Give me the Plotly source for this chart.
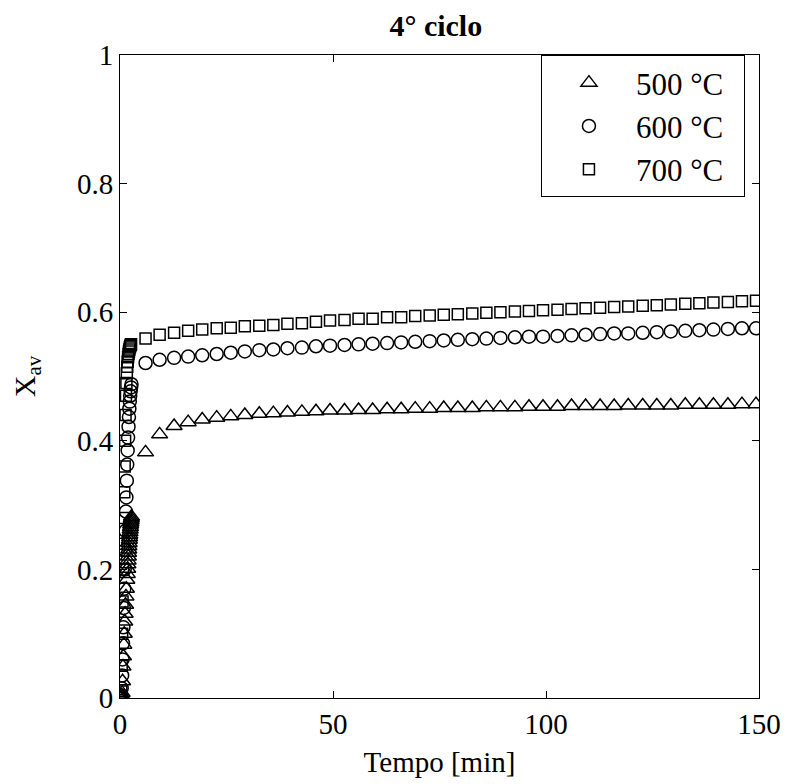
import plotly.graph_objects as go

# ---- data ----
t_early_500 = [0.0, 0.1, 0.2, 0.3, 0.4, 0.5, 0.6, 0.7, 0.8, 0.9, 1.0, 1.1, 1.2, 1.3, 1.4, 1.5,
               1.6, 1.7, 1.8, 1.85, 1.9, 1.95, 2.0, 2.05, 2.1, 2.15, 2.2, 2.25, 2.3, 2.35, 2.4,
               2.45, 2.5, 2.55, 2.6, 2.65, 2.7]
x_early_500 = [0.000, 0.000, 0.001, 0.002, 0.004, 0.008, 0.026, 0.049, 0.065, 0.083, 0.100, 0.119,
               0.131, 0.145, 0.158, 0.170, 0.184, 0.193, 0.201, 0.208, 0.214, 0.220, 0.226, 0.231,
               0.236, 0.241, 0.246, 0.250, 0.254, 0.258, 0.262, 0.266, 0.270, 0.273, 0.276, 0.279,
               0.282]

t_early_600 = [0.0, 0.1, 0.2, 0.3, 0.4, 0.5, 0.6, 0.7, 0.8, 0.9, 1.0, 1.1, 1.2, 1.3, 1.4, 1.5,
               1.6, 1.7, 1.8, 1.9, 2.0, 2.1, 2.2, 2.3, 2.4, 2.5, 2.6, 2.7]
x_early_600 = [0.000, 0.000, 0.001, 0.004, 0.015, 0.035, 0.060, 0.085, 0.110, 0.140, 0.170, 0.200,
               0.230, 0.260, 0.290, 0.312, 0.338, 0.363, 0.385, 0.405, 0.422, 0.437, 0.450, 0.461,
               0.470, 0.477, 0.483, 0.488]

t_early_700 = [0.0, 0.1, 0.2, 0.3, 0.4, 0.5, 0.6, 0.7, 0.8, 0.9, 1.0, 1.1, 1.2, 1.3, 1.4, 1.5,
               1.6, 1.7, 1.8, 1.9, 2.0, 2.1, 2.2, 2.3, 2.4, 2.5, 2.6]
x_early_700 = [0.000, 0.000, 0.002, 0.010, 0.050, 0.100, 0.150, 0.200, 0.240, 0.280, 0.320, 0.360,
               0.400, 0.440, 0.470, 0.490, 0.505, 0.515, 0.523, 0.530, 0.535, 0.539, 0.542, 0.545,
               0.547, 0.549, 0.550]

t_late = [6.0, 9.3, 12.7, 16.0, 19.3, 22.7, 26.0, 29.3, 32.7, 36.0, 39.3, 42.7, 46.0, 49.3,
          52.7, 56.0, 59.3, 62.7, 66.0, 69.3, 72.7, 76.0, 79.3, 82.7, 86.0, 89.3, 92.7, 96.0,
          99.3, 102.7, 106.0, 109.3, 112.7, 116.0, 119.3, 122.7, 126.0, 129.3, 132.7, 136.0,
          139.3, 142.7, 146.0, 149.3]
x_late_500 = [0.382, 0.410, 0.423, 0.429, 0.433, 0.436, 0.438, 0.440, 0.442, 0.443, 0.444, 0.445,
              0.446, 0.447, 0.447, 0.448, 0.448, 0.449, 0.449, 0.450, 0.450, 0.451, 0.451, 0.451,
              0.452, 0.452, 0.452, 0.453, 0.453, 0.453, 0.454, 0.454, 0.454, 0.454, 0.455, 0.455,
              0.455, 0.455, 0.456, 0.456, 0.456, 0.456, 0.457, 0.457]
x_late_600 = [0.521, 0.526, 0.529, 0.531, 0.533, 0.535, 0.537, 0.539, 0.541, 0.542, 0.544, 0.545,
              0.547, 0.548, 0.549, 0.550, 0.551, 0.552, 0.553, 0.554, 0.555, 0.556, 0.557, 0.558,
              0.559, 0.560, 0.561, 0.562, 0.562, 0.563, 0.564, 0.565, 0.566, 0.567, 0.567, 0.568,
              0.569, 0.570, 0.571, 0.572, 0.573, 0.574, 0.575, 0.575]
x_late_700 = [0.559, 0.565, 0.568, 0.571, 0.573, 0.575, 0.576, 0.578, 0.579, 0.580, 0.582, 0.583,
              0.585, 0.587, 0.588, 0.590, 0.590, 0.592, 0.592, 0.594, 0.595, 0.596, 0.597, 0.598,
              0.599, 0.600, 0.601, 0.602, 0.603, 0.604, 0.605, 0.606, 0.607, 0.608, 0.609, 0.610,
              0.611, 0.612, 0.613, 0.614, 0.615, 0.616, 0.617, 0.618]

series_names = ["500 °C", "600 °C", "700 °C"]
x_ticks = [0, 50, 100, 150]
y_ticks = [0, 0.2, 0.4, 0.6, 0.8, 1]
y_tick_text = ["0", "0.2", "0.4", "0.6", "0.8", "1"]

FONT = "Liberation Serif, Times New Roman, serif"

fig = go.Figure()
specs = [
    (t_early_500 + t_late, x_early_500 + x_late_500, "triangle-up-open", 14),
    (t_early_600 + t_late, x_early_600 + x_late_600, "circle-open", 13),
    (t_early_700 + t_late, x_early_700 + x_late_700, "square-open", 11),
]
for name, (tx, ty, sym, sz) in zip(series_names, specs):
    fig.add_trace(go.Scatter(
        x=tx, y=ty, mode="markers", name=name + "&nbsp;&nbsp;",
        marker=dict(symbol=sym, size=sz, color="black", line=dict(color="black", width=1.5)),
    ))

axis_common = dict(
    showgrid=False, zeroline=False, showline=True, linecolor="black", linewidth=1,
    mirror="ticks", ticks="inside", ticklen=7, tickcolor="black", tickwidth=1,
    tickfont=dict(family=FONT, size=29, color="black"),
)

fig.update_layout(
    width=785, height=776,
    margin=dict(l=107, r=32, t=47, b=82),
    paper_bgcolor="white", plot_bgcolor="white",
    title=dict(text="<b>4° ciclo</b>", x=0.545, xanchor="center", y=0.977, yanchor="middle",
               font=dict(family=FONT, size=30, color="black")),
    xaxis=dict(range=[0, 150], tickvals=x_ticks,
               title=dict(text="Tempo [min]", font=dict(family=FONT, size=29, color="black"), standoff=12),
               **axis_common),
    yaxis=dict(range=[0, 1], tickvals=y_ticks, ticktext=y_tick_text,
               title=dict(text="X<sub>av</sub>", font=dict(family=FONT, size=30, color="black"), standoff=36),
               **axis_common),
    legend=dict(x=0.978, xanchor="right", y=1.0, yanchor="top",
                bordercolor="black", borderwidth=1, bgcolor="white",
                font=dict(family=FONT, size=31, color="black"),
                itemwidth=84, tracegroupgap=0),
    showlegend=True,
)

fig.write_html("out.html")
